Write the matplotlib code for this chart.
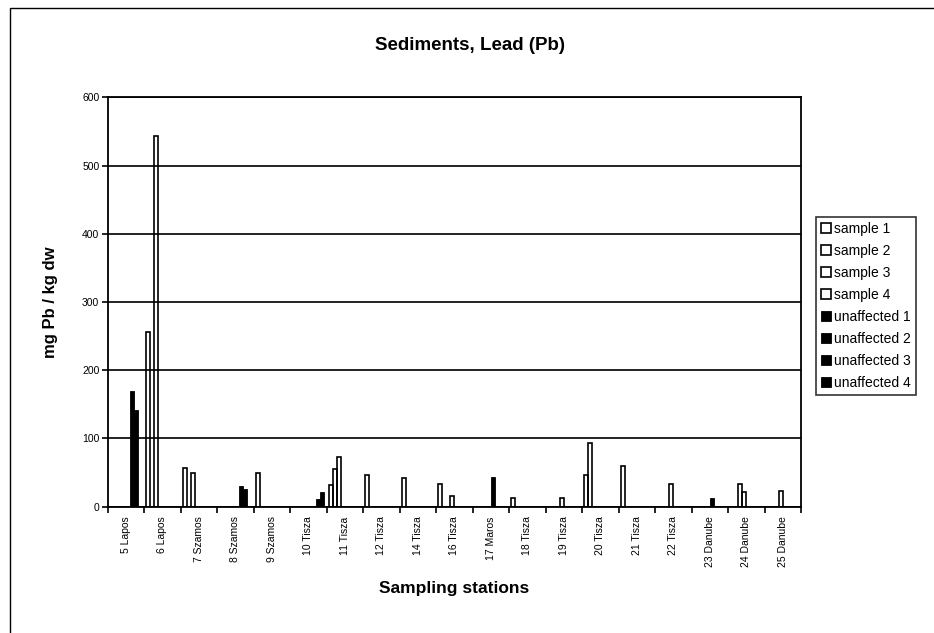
import numpy as np
import matplotlib
matplotlib.use("Agg")
import matplotlib.pyplot as plt
from matplotlib.patches import Rectangle

plt.rcParams['font.family'] = ['Liberation Sans', 'DejaVu Sans']

nan = np.nan
stations = ["5 Lapos", "6 Lapos", "7 Szamos", "8 Szamos", "9 Szamos", "10 Tisza",
            "11 Tisza", "12 Tisza", "14 Tisza", "16 Tisza", "17 Maros", "18 Tisza",
            "19 Tisza", "20 Tisza", "21 Tisza", "22 Tisza", "23 Danube", "24 Danube",
            "25 Danube"]

sample_1 = [nan, 256, 57, nan, 49, nan, 32, 46.5, 41.5, 33, nan, 13, nan, 46.5, 60, nan, nan, nan, nan]
sample_2 = [nan, nan, nan, nan, nan, nan, 55, nan, nan, nan, nan, nan, nan, 94, nan, nan, nan, nan, nan]
sample_3 = [nan, 543, 49, nan, nan, nan, 73, nan, nan, nan, nan, nan, nan, nan, nan, nan, nan, 34, nan]
sample_4 = [nan, nan, nan, nan, nan, nan, nan, nan, nan, 16, nan, nan, 13, nan, nan, 33, nan, 21, 23]
unaffected_1 = [nan, nan, nan, nan, nan, nan, nan, nan, nan, nan, 44, nan, nan, nan, nan, nan, 13, nan, nan]
unaffected_2 = [170, nan, nan, 30, nan, nan, nan, nan, nan, nan, nan, nan, nan, nan, nan, nan, nan, nan, nan]
unaffected_3 = [141, nan, nan, 26, nan, 11, nan, nan, nan, nan, nan, nan, nan, nan, nan, nan, nan, nan, nan]
unaffected_4 = [nan, nan, nan, nan, nan, 21, nan, nan, nan, nan, nan, nan, nan, nan, nan, nan, nan, nan, nan]

series = [("sample 1", sample_1), ("sample 2", sample_2), ("sample 3", sample_3),
          ("sample 4", sample_4), ("unaffected 1", unaffected_1),
          ("unaffected 2", unaffected_2), ("unaffected 3", unaffected_3),
          ("unaffected 4", unaffected_4)]

fig = plt.figure(figsize=(9.34, 6.33), dpi=100)
W, H = 934, 633
ax = fig.add_axes([107.7 / W, 1 - 506.7 / H, (801 - 107.7) / W, (506.7 - 97.3) / H])

# outer chart border
fig.patches.append(Rectangle((10 / W, -0.01), 1.0, 1 - 8 / H + 0.01, transform=fig.transFigure,
                             fill=False, edgecolor='black', linewidth=1.0))

x = np.arange(len(stations))
w = 0.11
for k, (name, vals) in enumerate(series):
    if name.startswith("sample"):
        ax.bar(x + (k - 3.5) * w, vals, width=w, facecolor='none', edgecolor='black',
               linewidth=1.2, label=name, zorder=3)
    else:
        ax.bar(x + (k - 3.5) * w, vals, width=w, facecolor='black', edgecolor='black',
               linewidth=0.6, label=name, zorder=3)

ax.set_xlim(-0.5, len(stations) - 0.5)
ax.set_ylim(0, 600)
ax.set_yticks(range(0, 601, 100))
ax.yaxis.grid(True, color='#222222', linewidth=1.4, zorder=0)
ax.set_axisbelow(True)
for s in ax.spines.values():
    s.set_linewidth(1.3)
    s.set_color('black')

ax.set_xticks(np.arange(-0.5, len(stations), 1.0))
ax.set_xticklabels([])
ax.set_xticks(x, minor=True)
ax.set_xticklabels(stations, minor=True, rotation=90, fontsize=7.5, va='top', ha='center')
ax.tick_params(axis='x', which='major', direction='out', length=4, width=1.2)
ax.tick_params(axis='x', which='minor', length=0, pad=7)
ax.tick_params(axis='y', direction='out', length=4, width=1.2, labelsize=7.5, pad=2)

ax.set_ylabel("mg Pb / kg dw", fontsize=12, fontweight='bold', labelpad=17)
ax.set_xlabel("Sampling stations", fontsize=12.5, fontweight='bold', labelpad=10)
fig.text(470 / W, 1 - 45 / H, "Sediments, Lead (Pb)", fontsize=13.5, fontweight='bold',
         ha='center', va='center')

handles, labels = ax.get_legend_handles_labels()
leg = fig.legend(handles, labels, loc='upper left', bbox_to_anchor=(816 / W, 1 - 217 / H),
                 fontsize=10, frameon=True, fancybox=False, handlelength=0.75,
                 handleheight=0.75, handletextpad=0.2, labelspacing=0.58, borderpad=0.35,
                 borderaxespad=0)
leg.get_frame().set_edgecolor('black')
leg.get_frame().set_linewidth(1.2)

fig.savefig("out.png", dpi=100)
